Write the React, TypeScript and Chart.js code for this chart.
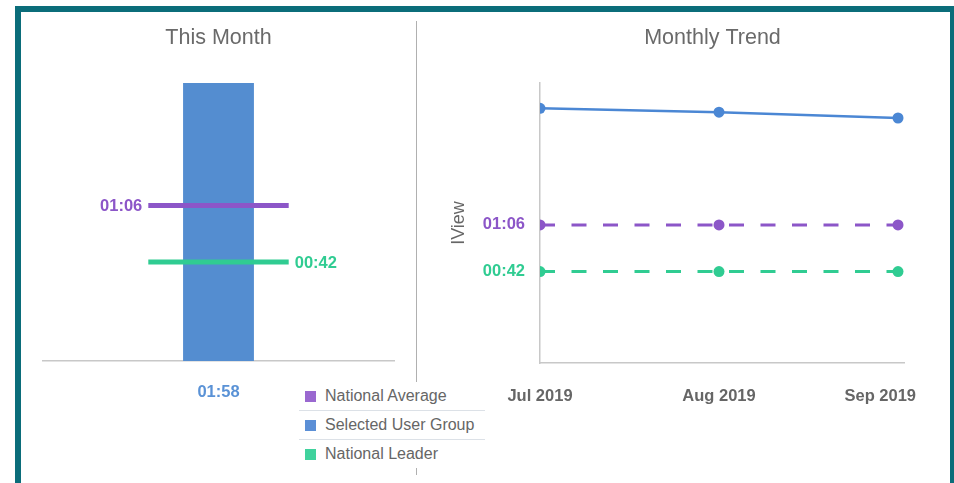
import React, { useEffect, useRef } from 'react';
import { Chart, registerables } from 'chart.js';

Chart.register(...registerables);

// ---------- data ----------
const thisMonthTitle = 'This Month';
const trendTitle = 'Monthly Trend';
const trendAxisTitle = 'IView';

const seriesNames = ['National Average', 'Selected User Group', 'National Leader'];

// This month (seconds)
const thisMonthSelected = 118; // 01:58
const thisMonthAverage = 66; // 01:06
const thisMonthLeader = 42; // 00:42

// Monthly trend (seconds)
const trendMonths = ['Jul 2019', 'Aug 2019', 'Sep 2019'];
const trendSelected = [126, 124, 121];
const trendAverage = [66, 66, 66];
const trendLeader = [42, 42, 42];
const trendTickValues = [42, 66];

// ---------- styles ----------
const FONT = '"Liberation Sans", Arial, Helvetica, sans-serif';
const PURPLE = '#8c56c8';
const GREEN = '#30cc92';
const BLUE_BAR = '#548dd0';
const BLUE_LINE = '#4b87d4';
const BLUE_LABEL = '#5a92d6';
const GRAY_TEXT = '#666666';
const TITLE_GRAY = '#6a6a6a';
const AXIS_GRAY = '#c8c8c8';
const LEGEND_COLORS = ['#9a68d0', '#5b8fd6', '#40d29d'];

Chart.defaults.font.family = FONT;

const fmt = (s: number) => {
  const m = Math.floor(s / 60);
  const r = Math.round(s - m * 60);
  return String(m).padStart(2, '0') + ':' + String(r).padStart(2, '0');
};

const lineEndLabels = {
  id: 'lineEndLabels',
  afterDatasetsDraw(chart: any) {
    const ctx = chart.ctx;
    chart.data.datasets.forEach((ds: any, i: number) => {
      const side = ds.endLabel;
      if (!side) return;
      const meta = chart.getDatasetMeta(i);
      const idx: number[] = [];
      ds.data.forEach((v: any, j: number) => { if (v != null) idx.push(j); });
      if (!idx.length) return;
      const j = side === 'left' ? idx[0] : idx[idx.length - 1];
      const p = meta.data[j];
      ctx.save();
      ctx.font = 'bold 16.5px ' + FONT;
      ctx.fillStyle = ds.borderColor;
      ctx.textBaseline = 'middle';
      ctx.textAlign = side === 'left' ? 'right' : 'left';
      ctx.fillText(fmt(ds.data[j]), side === 'left' ? p.x - 6 : p.x + 6, p.y + 1);
      ctx.restore();
    });
  },
};

const monthLabels = {
  id: 'monthLabels',
  afterDraw(chart: any) {
    const xs = chart.scales.x;
    const { ctx, chartArea } = chart;
    ctx.save();
    ctx.font = 'bold 16.5px ' + FONT;
    ctx.fillStyle = GRAY_TEXT;
    ctx.textBaseline = 'middle';
    ctx.textAlign = 'center';
    trendMonths.forEach((m, i) => {
      const w = ctx.measureText(m).width;
      let x = xs.getPixelForValue(i);
      x = Math.min(x, chartArea.right + 12 - w / 2);
      ctx.fillText(m, x, xs.top + 33);
    });
    ctx.restore();
  },
};

function ThisMonthChart() {
  const ref = useRef<HTMLCanvasElement>(null);
  useEffect(() => {
    if (!ref.current) return;
    const slots = ['', '', thisMonthTitle, '', ''];
    const center = 2;
    const chart = new Chart(ref.current, {
      type: 'bar',
      data: {
        labels: slots,
        datasets: [
          {
            type: 'line',
            label: seriesNames[0],
            data: slots.map((_, i) => (Math.abs(i - center) <= 1 ? thisMonthAverage : null)),
            borderColor: PURPLE,
            backgroundColor: PURPLE,
            borderWidth: 5,
            pointRadius: 0,
            borderCapStyle: 'butt',
            order: 1,
            endLabel: 'left',
          } as any,
          {
            type: 'line',
            label: seriesNames[2],
            data: slots.map((_, i) => (Math.abs(i - center) <= 1 ? thisMonthLeader : null)),
            borderColor: GREEN,
            backgroundColor: GREEN,
            borderWidth: 5,
            pointRadius: 0,
            borderCapStyle: 'butt',
            order: 1,
            endLabel: 'right',
          } as any,
          {
            type: 'bar',
            label: seriesNames[1],
            data: slots.map((_, i) => (i === center ? thisMonthSelected : null)),
            backgroundColor: BLUE_BAR,
            barPercentage: 1,
            categoryPercentage: 1,
            order: 2,
          } as any,
        ],
      },
      options: {
        responsive: false,
        animation: false,
        layout: { padding: { left: 25, right: 20, top: 0, bottom: 0 } },
        plugins: {
          legend: { display: false },
          tooltip: { enabled: false },
          title: {
            display: true,
            text: thisMonthTitle,
            color: TITLE_GRAY,
            font: { size: 21.5, weight: 'normal', family: FONT },
            padding: { top: 12.8, bottom: 32.4 },
          },
        },
        scales: {
          x: {
            grid: { display: false, drawTicks: false },
            border: { display: true, color: AXIS_GRAY, width: 1.5 },
            ticks: {
              autoSkip: false,
              maxRotation: 0,
              padding: 21.5,
              color: BLUE_LABEL,
              font: { size: 16.5, weight: 'bold', family: FONT },
              callback: (_v: any, i: number) => (i === center ? fmt(thisMonthSelected) : ''),
            },
            afterFit: (s: any) => { s.height = 111; },
          },
          y: { display: false, min: 0, max: thisMonthSelected },
        },
      } as any,
      plugins: [lineEndLabels],
    });
    return () => chart.destroy();
  }, []);
  return (
    <canvas
      ref={ref}
      width={396}
      height={460}
      style={{ position: 'absolute', left: 18, top: 12, width: 396, height: 460 }}
    />
  );
}

function TrendChart() {
  const ref = useRef<HTMLCanvasElement>(null);
  useEffect(() => {
    if (!ref.current) return;
    const toPts = (arr: number[]) => arr.map((y, i) => ({ x: i, y }));
    const tickColor = (v: number) => (v === trendAverage[0] ? PURPLE : v === trendLeader[0] ? GREEN : GRAY_TEXT);
    const chart = new Chart(ref.current, {
      type: 'line',
      data: {
        datasets: [
          {
            label: seriesNames[1],
            data: toPts(trendSelected),
            borderColor: BLUE_LINE,
            backgroundColor: BLUE_LINE,
            borderWidth: 2.5,
            pointRadius: 5.5,
            pointBorderWidth: 0,
            pointBackgroundColor: BLUE_LINE,
          },
          {
            label: seriesNames[0],
            data: toPts(trendAverage),
            borderColor: PURPLE,
            backgroundColor: PURPLE,
            borderWidth: 3,
            borderDash: [15, 16.5],
            pointRadius: 5.5,
            pointBorderWidth: 0,
            pointBackgroundColor: PURPLE,
          },
          {
            label: seriesNames[2],
            data: toPts(trendLeader),
            borderColor: GREEN,
            backgroundColor: GREEN,
            borderWidth: 3,
            borderDash: [15, 16.5],
            pointRadius: 5.5,
            pointBorderWidth: 0,
            pointBackgroundColor: GREEN,
          },
        ],
      },
      options: {
        responsive: false,
        animation: false,
        layout: { padding: { left: 4, right: 7, top: 0, bottom: 0 } },
        plugins: {
          legend: { display: false },
          tooltip: { enabled: false },
          title: {
            display: true,
            text: trendTitle,
            color: TITLE_GRAY,
            font: { size: 21.5, weight: 'normal', family: FONT },
            padding: { top: 12.8, bottom: 32.4 },
          },
        },
        scales: {
          x: {
            type: 'linear',
            min: 0,
            max: 2.0335,
            grid: { display: false, drawTicks: false },
            border: { display: true, color: AXIS_GRAY, width: 1.5 },
            ticks: { display: false },
            afterFit: (s: any) => { s.height = 109; },
          },
          y: {
            type: 'linear',
            min: -5,
            max: 139,
            grid: { display: false, drawTicks: false },
            border: { display: true, color: AXIS_GRAY, width: 1.5 },
            afterBuildTicks: (s: any) => { s.ticks = trendTickValues.map((v) => ({ value: v })); },
            ticks: {
              padding: 15,
              font: { size: 16.5, weight: 'bold', family: FONT },
              color: (c: any) => tickColor(c.tick.value),
              callback: (v: any) => fmt(Number(v)),
            },
            title: {
              display: true,
              text: trendAxisTitle,
              color: GRAY_TEXT,
              font: { size: 18, weight: 'normal', family: FONT },
              padding: { top: 26.2, bottom: 0 },
            },
            afterFit: (s: any) => { s.width = 118; },
          },
          yRight: {
            type: 'linear',
            position: 'right',
            display: true,
            grid: { display: false, drawTicks: false },
            border: { display: false },
            ticks: { display: false },
            afterFit: (s: any) => { s.width = 99; },
          },
        },
      } as any,
      plugins: [monthLabels],
    });
    return () => chart.destroy();
  }, []);
  return (
    <canvas
      ref={ref}
      width={592}
      height={460}
      style={{ position: 'absolute', left: 418, top: 12, width: 592, height: 460 }}
    />
  );
}

function Legend() {
  return (
    <div
      style={{
        position: 'absolute',
        left: 299,
        top: 382,
        width: 186,
        background: '#fff',
        fontFamily: FONT,
        fontSize: 16,
        color: GRAY_TEXT,
      }}
    >
      {seriesNames.map((name, i) => (
        <div
          key={name}
          style={{
            position: 'relative',
            height: 28,
            borderTop: i > 0 ? '1.5px solid #dce1e7' : 'none',
          }}
        >
          <span
            style={{
              position: 'absolute',
              left: 6,
              top: '50%',
              marginTop: -5.5,
              width: 11,
              height: 11,
              background: LEGEND_COLORS[i],
            }}
          />
          <span style={{ position: 'absolute', left: 26, lineHeight: '28px', top: 0, whiteSpace: 'nowrap' }}>{name}</span>
        </div>
      ))}
    </div>
  );
}

export default function App() {
  return (
    <div
      style={{
        position: 'fixed',
        left: 0,
        top: 0,
        width: 954,
        height: 483,
        overflow: 'hidden',
        background: '#fff',
        fontFamily: FONT,
      }}
    >
      <div style={{ position: 'absolute', left: 416, top: 21, width: 1, height: 454, background: '#b0b0b0' }} />
      <ThisMonthChart />
      <TrendChart />
      <Legend />
      <div
        style={{
          position: 'absolute',
          left: 15,
          top: 6,
          width: 941,
          height: 520,
          boxSizing: 'border-box',
          border: '6px solid #0b6d7a',
          pointerEvents: 'none',
        }}
      />
    </div>
  );
}
